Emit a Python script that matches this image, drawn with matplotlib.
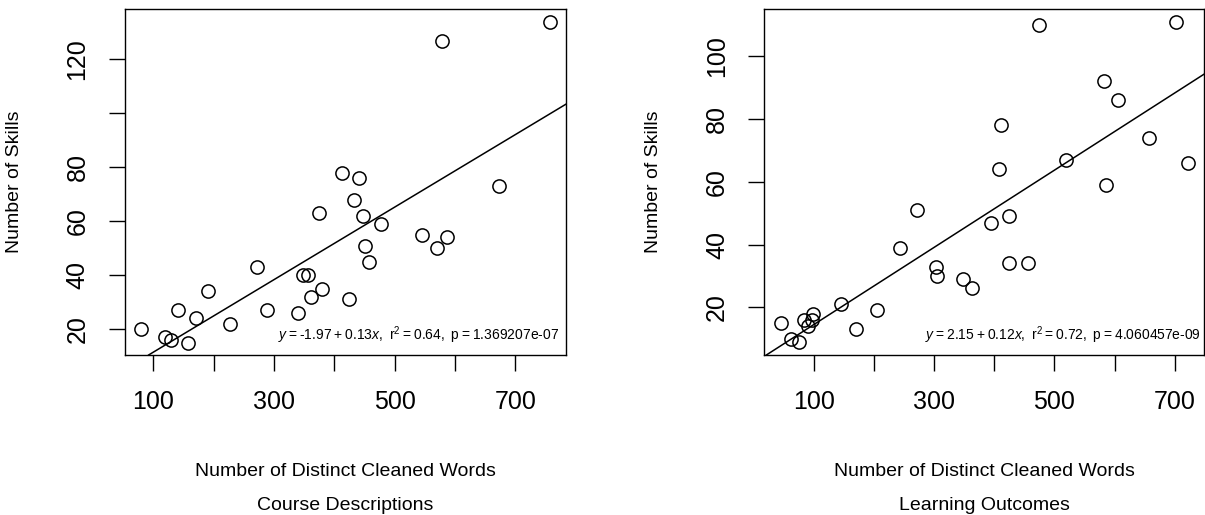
import numpy as np
import matplotlib
matplotlib.use('Agg')
import matplotlib.pyplot as plt

plt.rcParams['font.family'] = ['Liberation Sans', 'DejaVu Sans']
plt.rcParams['mathtext.fontset'] = 'custom'
plt.rcParams['mathtext.rm'] = 'Liberation Sans'
plt.rcParams['mathtext.it'] = 'Liberation Sans:italic'

T = '\u2009'  # thin space, plotmath-like tight spacing

# course descriptions
cd_words = [79, 120, 130, 157, 141, 170, 190, 227, 272, 288, 340, 348, 356, 361, 379,
            374, 424, 412, 441, 433, 448, 477, 451, 458, 545, 570, 586, 673, 579, 757]
cd_skills = [20, 17, 16, 15, 27, 24, 34, 22, 43, 27, 26, 40, 40, 32, 35,
             63, 31, 78, 76, 68, 62, 59, 51, 45, 55, 50, 54, 73, 127, 134]
cd_note = (r'$y$' + T + '=' + T + '-1.97' + T + '+' + T + r'0.13$x$, ' + T +
           r'r$^2$' + T + '=' + T + '0.64, ' + T + 'p' + T + '=' + T + '1.369207e-07')

# learning outcomes
lo_words = [44, 61, 74, 83, 89, 98, 97, 145, 170, 205, 243, 271, 303, 305, 348,
            363, 395, 424, 424, 456, 407, 411, 475, 519, 583, 606, 585, 657, 703, 722]
lo_skills = [15, 10, 9, 16, 14, 18, 16, 21, 13, 19, 39, 51, 33, 30, 29,
             26, 47, 49, 34, 34, 64, 78, 110, 67, 92, 86, 59, 74, 111, 66]
lo_note = (r'$y$' + T + '=' + T + '2.15' + T + '+' + T + r'0.12$x$, ' + T +
           r'r$^2$' + T + '=' + T + '0.72, ' + T + 'p' + T + '=' + T + '4.060457e-09')

x_ticks = [100, 200, 300, 400, 500, 600, 700]
x_labels = ['100', '', '300', '', '500', '', '700']

panels = [
    dict(x=cd_words, y=cd_skills, note=cd_note, sub='Course Descriptions',
         xlim=(53, 784), ylim=(10.4, 138.6),
         yticks=[20, 40, 60, 80, 100, 120], ylabels=['20', '40', '60', '80', '', '120'],
         rect=[0.1037, 0.3107, 0.3660, 0.6713], note_x=0.984),
    dict(x=lo_words, y=lo_skills, note=lo_note, sub='Learning Outcomes',
         xlim=(17, 749), ylim=(4.8, 115.0),
         yticks=[20, 40, 60, 80, 100], ylabels=['20', '40', '60', '80', '100'],
         rect=[0.6343, 0.3107, 0.3649, 0.6713], note_x=0.994),
]

fig = plt.figure(figsize=(12.05, 5.15), dpi=100)
for p in panels:
    ax = fig.add_axes(p['rect'])
    x = np.array(p['x'], dtype=float)
    y = np.array(p['y'], dtype=float)
    ax.plot(x, y, 'o', mfc='none', mec='black', ms=9.5, mew=1.1)
    slope, icpt = np.polyfit(x, y, 1)
    ax.axline((0, icpt), slope=slope, color='black', lw=1.1)
    ax.set_xlim(*p['xlim'])
    ax.set_ylim(*p['ylim'])
    ax.set_xticks(x_ticks)
    ax.set_xticklabels(x_labels)
    ax.set_yticks(p['yticks'])
    ax.set_yticklabels(p['ylabels'], rotation=90, va='center')
    ax.tick_params(direction='out', length=11.5, width=1, pad=14, labelsize=18)
    for s in ax.spines.values():
        s.set_linewidth(1)
    ax.set_ylabel('Number of Skills', fontsize=14)
    ax.yaxis.set_label_coords(-0.232, 0.5)
    ax.text(0.5, -0.336, 'Number of Distinct Cleaned Words', fontsize=14,
            ha='center', va='center', transform=ax.transAxes)
    ax.text(0.5, -0.434, p['sub'], fontsize=14,
            ha='center', va='center', transform=ax.transAxes)
    ax.text(p['note_x'], 0.058, p['note'], fontsize=10,
            ha='right', va='center', transform=ax.transAxes)

plt.savefig('out.png', dpi=100)
